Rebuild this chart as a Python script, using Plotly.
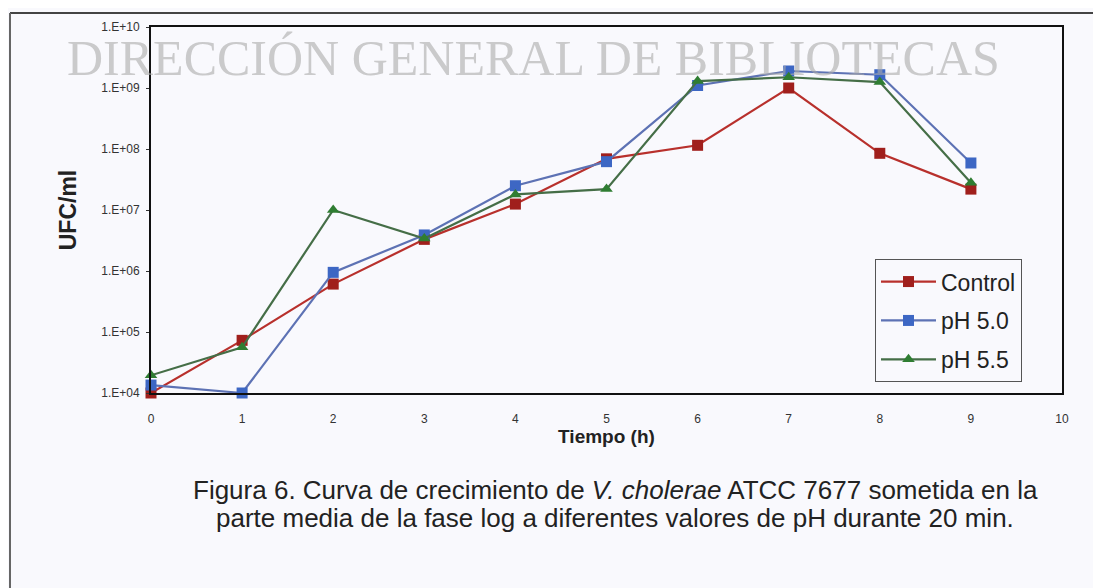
import plotly.graph_objects as go

# data (UFC/ml vs hours)
tiempo = [0, 1, 2, 3, 4, 5, 6, 7, 8, 9]
control = [1.0e4, 7.3e4, 6.1e5, 3.3e6, 1.25e7, 6.9e7, 1.15e8, 1.0e9, 8.5e7, 2.2e7]
ph50 = [1.35e4, 1.0e4, 9.5e5, 3.9e6, 2.5e7, 6.2e7, 1.1e9, 1.9e9, 1.65e9, 5.9e7]
ph55 = [1.95e4, 5.6e4, 1.0e7, 3.4e6, 1.8e7, 2.2e7, 1.3e9, 1.5e9, 1.25e9, 2.8e7]

y_ticks = [1e4, 1e5, 1e6, 1e7, 1e8, 1e9, 1e10]
y_ticktext = ["1.E+04", "1.E+05", "1.E+06", "1.E+07", "1.E+08", "1.E+09", "1.E+10"]

caption = [
    "Figura 6. Curva de crecimiento de <i>V. cholerae</i> ATCC 7677 sometida en la",
    "parte media de la fase log a diferentes valores de pH durante 20 min.",
]

BG = "#f9f9fd"
FONT = "Liberation Sans, Arial, sans-serif"

# page is drawn with an 8px body margin, plot area sits at x 151..1062, y 24..393
PW, PH = 911, 369
def px(x):
    return (x - 151) / PW
def py(y):
    return (393 - y) / PH

series = [
    ("Control", control, "square", "#a01f1c", "#b8302c"),
    ("pH 5.0", ph50, "square", "#3d67c4", "#5d72b4"),
    ("pH 5.5", ph55, "triangle-up", "#2f7d32", "#456e47"),
]

fig = go.Figure()
for name, vals, sym, mcol, lcol in series:
    fig.add_trace(go.Scatter(
        x=tiempo, y=vals, name=name, mode="lines+markers", legendgroup=name,
        line=dict(color=lcol, width=2.2),
        marker=dict(symbol=sym, size=11, color=mcol),
        cliponaxis=False,
    ))

fig.update_xaxes(range=[0, 10], dtick=1, showgrid=False, zeroline=False,
                 showline=True, linecolor="#111", linewidth=2, mirror=True,
                 ticks="", ticklabelstandoff=14, tickfont=dict(size=12, color="#333"),
                 title=dict(text="<b>Tiempo (h)</b>", font=dict(size=19, color="#222"), standoff=2))
fig.update_yaxes(type="log", range=[4, 10], tickvals=y_ticks, ticktext=y_ticktext,
                 showgrid=False, zeroline=False,
                 showline=True, linecolor="#111", linewidth=2, mirror=True,
                 ticks="outside", ticklen=3, tickcolor="#333", ticklabelstandoff=4,
                 tickfont=dict(size=12, color="#333"),
                 title=dict(text="<b>UFC/ml</b>", font=dict(size=23, color="#222"), standoff=18))

# outer frame of the scanned figure
fig.add_shape(type="line", xref="paper", yref="paper", x0=px(10), x1=px(1101),
              y0=py(10), y1=py(10), line=dict(color="#444", width=2))
fig.add_shape(type="line", xref="paper", yref="paper", x0=px(10), x1=px(10),
              y0=py(600), y1=py(10), line=dict(color="#666", width=2))

# caption, two lines
for text, yc in zip(caption, [491, 519]):
    fig.add_annotation(
        xref="paper", yref="paper", x=px(615), y=py(yc), text=text,
        showarrow=False, font=dict(size=26, color="#222", family=FONT),
        xanchor="center", yanchor="middle",
    )

# watermark
fig.add_annotation(
    xref="paper", yref="paper", x=px(533), y=py(55),
    text="DIRECCIÓN GENERAL DE BIBLIOTECAS", showarrow=False,
    font=dict(size=50, color="rgba(170,170,170,0.6)", family="Liberation Serif, Times New Roman, serif"),
    xanchor="center", yanchor="middle",
)

fig.update_layout(
    width=1093, height=580,
    paper_bgcolor=BG, plot_bgcolor=BG,
    font=dict(family=FONT, color="#222"),
    margin=dict(l=143, r=39, t=16, b=195),
    showlegend=True,
    legend=dict(x=px(875), y=py(258), xanchor="left", yanchor="top",
                bgcolor=BG, bordercolor="#555", borderwidth=1,
                font=dict(size=23, color="#222"), itemwidth=55, tracegroupgap=6),
)

fig.write_html("out.html")
